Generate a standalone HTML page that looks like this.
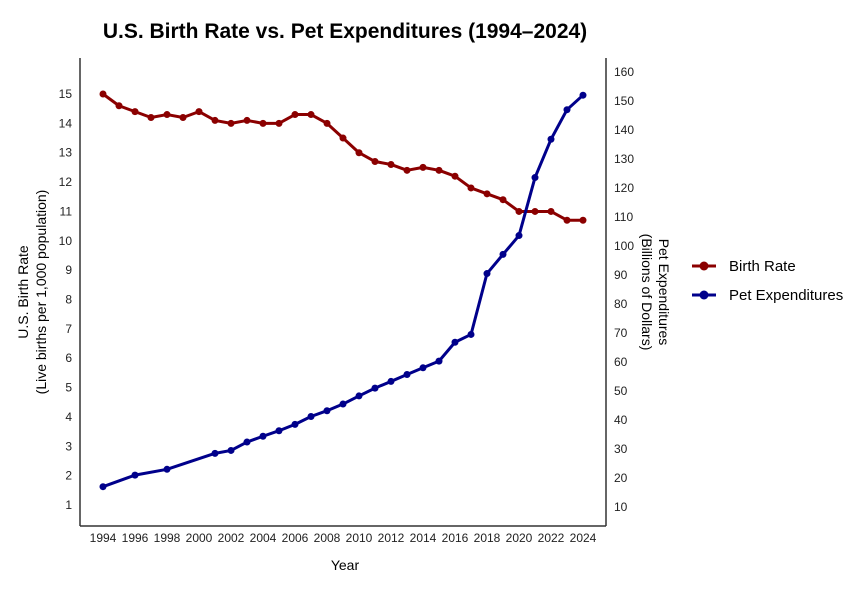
<!DOCTYPE html>
<html><head><meta charset="utf-8"><style>body{margin:0;background:#fff}svg{display:block}text{font-family:"Liberation Sans",Arial,sans-serif}</style></head><body>
<svg width="867" height="590" xmlns="http://www.w3.org/2000/svg">
<text x="345" y="38" text-anchor="middle" font-size="21" font-weight="bold">U.S. Birth Rate vs. Pet Expenditures (1994–2024)</text>
<line x1="80" y1="58" x2="80" y2="526" stroke="#333" stroke-width="1.5"/>
<line x1="80" y1="526" x2="606" y2="526" stroke="#333" stroke-width="1.5"/>
<line x1="606" y1="58" x2="606" y2="526" stroke="#333" stroke-width="1.5"/>
<g id="lt" font-size="12" text-anchor="end" fill="#222"></g>
<g id="rt" font-size="12" text-anchor="start" fill="#222"></g>
<g id="xt" font-size="12" text-anchor="middle" fill="#222"></g>
<text x="345" y="570" text-anchor="middle" font-size="14">Year</text>
<text transform="translate(28,292) rotate(-90)" text-anchor="middle" font-size="14">U.S. Birth Rate</text>
<text transform="translate(46,292) rotate(-90)" text-anchor="middle" font-size="14">(Live births per 1,000 population)</text>
<text transform="translate(659,292) rotate(90)" text-anchor="middle" font-size="14">Pet Expenditures</text>
<text transform="translate(642,292) rotate(90)" text-anchor="middle" font-size="14">(Billions of Dollars)</text>
<g id="series"></g>
<line x1="692" y1="266" x2="716" y2="266" stroke="#8b0000" stroke-width="3"/><circle cx="704" cy="266" r="4.5" fill="#8b0000"/>
<text x="729" y="271" font-size="15">Birth Rate</text>
<line x1="692" y1="295" x2="716" y2="295" stroke="#00008b" stroke-width="3"/><circle cx="704" cy="295" r="4.5" fill="#00008b"/>
<text x="729" y="300" font-size="15">Pet Expenditures</text>
</svg>
<script>
const ns="http://www.w3.org/2000/svg";
function el(p,t,a,txt){const e=document.createElementNS(ns,t);for(const k in a)e.setAttribute(k,a[k]);if(txt!=null)e.textContent=txt;document.getElementById(p).appendChild(e);return e;}
const X=y=>103+(y-1994)*16, YL=v=>94+(15-v)*29.36, YR=v=>101+(150-v)*2.9;
for(let v=1;v<=15;v++)el("lt","text",{x:72,y:YL(v)+4},v);
for(let v=10;v<=160;v+=10)el("rt","text",{x:614,y:YR(v)+4},v);
for(let y=1994;y<=2024;y+=2)el("xt","text",{x:X(y),y:542},y);
const b=[15,14.6,14.4,14.2,14.3,14.2,14.4,14.1,14,14.1,14,14,14.3,14.3,14,13.5,13,12.7,12.6,12.4,12.5,12.4,12.2,11.8,11.6,11.4,11,11,11,10.7,10.7];
const bp=b.map((v,i)=>[X(1994+i),YL(v)]);
const p=[[1994,17],[1996,21],[1998,23],[2001,28.5],[2002,29.5],[2003,32.4],[2004,34.4],[2005,36.3],[2006,38.5],[2007,41.2],[2008,43.2],[2009,45.5],[2010,48.3],[2011,51],[2012,53.3],[2013,55.7],[2014,58],[2015,60.3],[2016,66.8],[2017,69.5],[2018,90.5],[2019,97.1],[2020,103.6],[2021,123.6],[2022,136.8],[2023,147],[2024,152]];
const pp=p.map(d=>[X(d[0]),YR(d[1])]);
[[bp,"#8b0000"],[pp,"#00008b"]].forEach(([pts,c])=>{
el("series","polyline",{points:pts.map(q=>q.join(",")).join(" "),fill:"none",stroke:c,"stroke-width":3,"stroke-linejoin":"round"});
pts.forEach(q=>el("series","circle",{cx:q[0],cy:q[1],r:3.5,fill:c}));});
</script>
</body></html>
